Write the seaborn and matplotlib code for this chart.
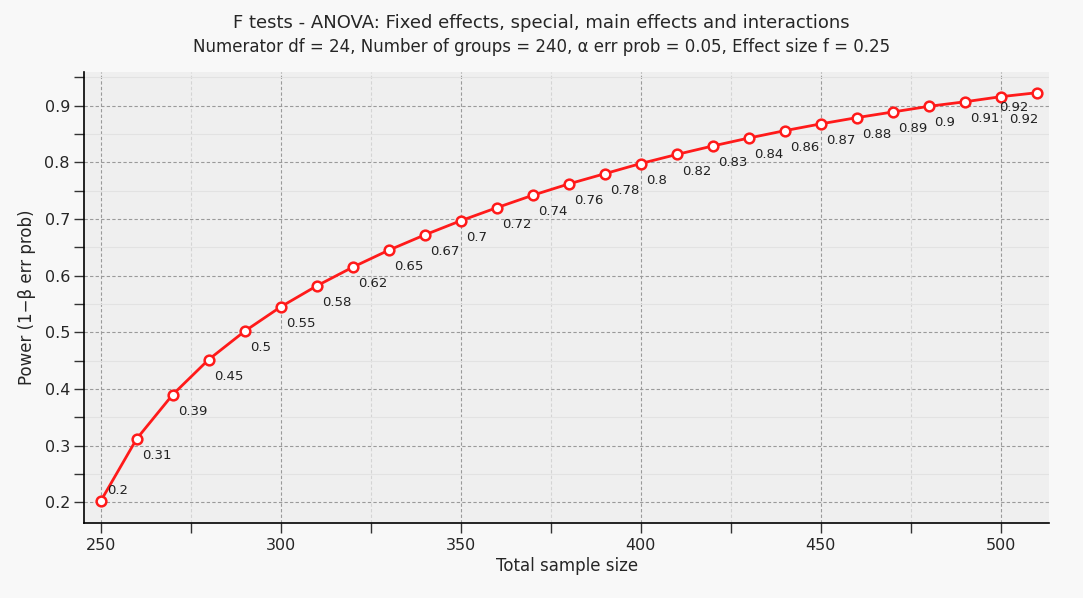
import pandas as pd
import seaborn as sns
import matplotlib.pyplot as plt
from matplotlib.ticker import MultipleLocator

sample_size = [250, 260, 270, 280, 290, 300, 310, 320, 330, 340, 350, 360, 370,
               380, 390, 400, 410, 420, 430, 440, 450, 460, 470, 480, 490, 500, 510]
power = [0.202, 0.312, 0.390, 0.452, 0.502, 0.545, 0.582, 0.615, 0.645, 0.672,
         0.697, 0.720, 0.742, 0.762, 0.780, 0.798, 0.814, 0.829, 0.843, 0.856,
         0.868, 0.879, 0.889, 0.899, 0.907, 0.916, 0.923]
point_labels = ["0.2", "0.31", "0.39", "0.45", "0.5", "0.55", "0.58", "0.62", "0.65",
                "0.67", "0.7", "0.72", "0.74", "0.76", "0.78", "0.8", "0.82", "0.83",
                "0.84", "0.86", "0.87", "0.88", "0.89", "0.9", "0.91", "0.92", "0.92"]

df = pd.DataFrame({"Total sample size": sample_size, "Power": power})

sns.set_theme(style="ticks")
plt.rcParams["font.family"] = ["DejaVu Sans"]

fig = plt.figure(figsize=(10.83, 5.98), dpi=100, facecolor="#f8f8f8")
ax = fig.add_axes([0.078, 0.125, 0.891, 0.755])
ax.set_facecolor("#efefef")

sns.lineplot(
    data=df,
    x="Total sample size",
    y="Power",
    color="#ff1a1a",
    linewidth=2,
    marker="o",
    markersize=7,
    markerfacecolor="white",
    markeredgecolor="#ff1a1a",
    markeredgewidth=1.8,
    ax=ax,
    zorder=5,
)

# labels sit below-right of each point; the last ones are squeezed in at the edge
n = len(sample_size)
for i, (x, y, lab) in enumerate(zip(sample_size, power, point_labels)):
    ha = "left"
    off = (4, -12)
    if i == 0:
        off = (5, 8)
    elif i == n - 2:
        off = (-1, -8)
    elif i == n - 1:
        off = (1, -19)
        ha = "right"
    ax.annotate(lab, (x, y), xytext=off, textcoords="offset points",
                fontsize=9.5, color="#222222", va="center", ha=ha, zorder=6)

ax.set_xlim(245.5, 513.5)
ax.set_ylim(0.163, 0.96)
ax.xaxis.set_major_locator(MultipleLocator(50))
ax.xaxis.set_minor_locator(MultipleLocator(25))
ax.yaxis.set_major_locator(MultipleLocator(0.1))
ax.yaxis.set_minor_locator(MultipleLocator(0.05))

ax.grid(which="major", color="#9a9a9a", linestyle=(0, (3, 2)), linewidth=0.8)
ax.grid(which="minor", axis="x", color="#d4d4d4", linestyle=(0, (3, 2)), linewidth=0.8)
ax.grid(which="minor", axis="y", color="#e2e2e2", linestyle="-", linewidth=0.8)
ax.set_axisbelow(True)

for s in ["top", "right"]:
    ax.spines[s].set_visible(False)
for s in ["left", "bottom"]:
    ax.spines[s].set_color("black")
    ax.spines[s].set_linewidth(1.2)

ax.tick_params(which="major", length=7, width=1, color="#333333", labelsize=11.5)
ax.tick_params(which="minor", length=7, width=1, color="#333333")

ax.set_xlabel("Total sample size", fontsize=12, labelpad=3)
ax.set_ylabel("Power (1\u2212\u03b2 err prob)", fontsize=12, labelpad=6)

fig.text(0.5, 0.962, "F tests - ANOVA: Fixed effects, special, main effects and interactions",
         ha="center", va="center", fontsize=13)
fig.text(0.5, 0.921, "Numerator df = 24, Number of groups = 240, \u03b1 err prob = 0.05, Effect size f = 0.25",
         ha="center", va="center", fontsize=12)

fig.savefig("out.png", dpi=100, facecolor=fig.get_facecolor())
